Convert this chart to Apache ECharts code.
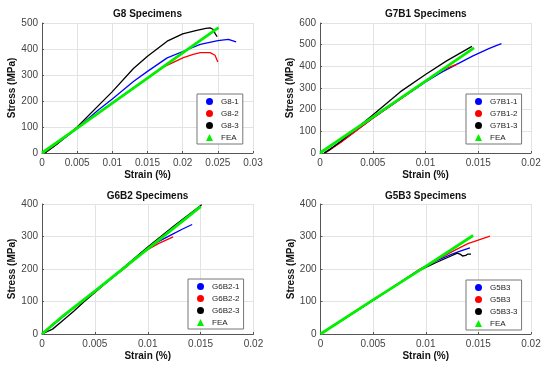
<!DOCTYPE html>
<html>
<head>
<meta charset="utf-8">
<script src="https://cdn.jsdelivr.net/npm/echarts@6/dist/echarts.min.js"></script>
<style>
html,body{margin:0;padding:0;background:#fff;}
#chart{width:550px;height:371px;}
</style>
</head>
<body>
<div id="chart"></div>
<script>
// ---------- data (strain, stress MPa) ----------
const panelTitles = ['G8 Specimens', 'G7B1 Specimens', 'G6B2 Specimens', 'G5B3 Specimens'];
const legendLabels = [
  ['G8-1', 'G8-2', 'G8-3', 'FEA'],
  ['G7B1-1', 'G7B1-2', 'G7B1-3', 'FEA'],
  ['G6B2-1', 'G6B2-2', 'G6B2-3', 'FEA'],
  ['G5B3', 'G5B3', 'G5B3-3', 'FEA']
];
const xMax = [0.03, 0.02, 0.02, 0.02];
const yMax = [500, 600, 400, 400];

const g8_1 = [[0.0004,0],[0.002,32],[0.005,95],[0.008,165],[0.01,208],[0.013,275],[0.015,314],[0.0178,366],[0.0209,400],[0.0225,418],[0.025,432],[0.0265,437],[0.0276,427]];
const g8_2 = [[0.0004,0],[0.002,33],[0.005,95],[0.01,192],[0.013,250],[0.0163,313],[0.0173,331],[0.0201,367],[0.0215,379],[0.0225,386],[0.0239,386],[0.0246,376],[0.025,350]];
const g8_3 = [[0.0004,0],[0.002,32],[0.005,100],[0.0083,190],[0.01,236],[0.013,325],[0.015,372],[0.0178,430],[0.02,458],[0.022,472],[0.0233,479],[0.0239,481],[0.0243,476],[0.0246,460],[0.0249,447]];
const g8_fea = [[0,0],[0.005,96],[0.01,192],[0.015,288],[0.02,385],[0.0251,482]];

const g7b1_1 = [[0.0004,0],[0.002,52],[0.005,160],[0.0076,248],[0.01,328],[0.0115,372],[0.013,410],[0.0145,448],[0.016,482],[0.0167,496],[0.0172,505]];
const g7b1_2 = [[0.0005,0],[0.002,50],[0.005,160],[0.0076,248],[0.01,330],[0.0117,385],[0.013,410]];
const g7b1_3 = [[0.0004,0],[0.001,18],[0.002,55],[0.005,175],[0.0076,282],[0.01,362],[0.012,425],[0.0144,492]];
const g7b1_fea = [[0,0],[0.005,166],[0.01,332],[0.0146,485]];

const g6b2_1 = [[0,0],[0.001,26],[0.003,80],[0.005,130],[0.008,208],[0.0093,248],[0.011,284],[0.0124,308],[0.0133,323],[0.0142,337]];
const g6b2_2 = [[0,0],[0.001,30],[0.003,80],[0.005,132],[0.008,208],[0.0093,247],[0.011,278],[0.0124,299]];
const g6b2_3 = [[0,0],[0.001,15],[0.002,42],[0.003,70],[0.004,100],[0.005,128],[0.008,212],[0.01,268],[0.0125,333],[0.0151,398]];
const g6b2_fea = [[0,0],[0.002,56],[0.005,132],[0.01,262],[0.015,392]];

const g5b3_1 = [[0,0],[0.005,104],[0.0094,198],[0.011,225],[0.0125,246],[0.0132,254],[0.0142,265]];
const g5b3_2 = [[0,0],[0.005,104],[0.0094,198],[0.0105,218],[0.0126,255],[0.014,278],[0.0161,301]];
const g5b3_3 = [[0,0],[0.005,104],[0.0094,196],[0.011,220],[0.0124,240],[0.013,249],[0.0133,245],[0.0135,240],[0.0138,242],[0.014,246],[0.0143,246]];
const g5b3_fea = [[0,0],[0.005,105],[0.01,208],[0.0145,303]];

const panelData = [
  [g8_1, g8_2, g8_3, g8_fea],
  [g7b1_1, g7b1_2, g7b1_3, g7b1_fea],
  [g6b2_1, g6b2_2, g6b2_3, g6b2_fea],
  [g5b3_1, g5b3_2, g5b3_3, g5b3_fea]
];

// ---------- styles / layout ----------
const FONT = 'Liberation Sans, Arial, Helvetica, sans-serif';
const colors = ['#0000ff', '#ff0000', '#000000', '#00f000'];
const widths = [1.3, 1.3, 1.3, 2.8];
const grids = [
  {left: 42, top: 23, width: 211, height: 130},
  {left: 320, top: 23, width: 211, height: 130},
  {left: 42, top: 204, width: 211.5, height: 130},
  {left: 320.5, top: 204, width: 210.5, height: 130}
];
const titlePos = [[147.5, 9], [425.8, 9], [147.5, 191], [425.8, 191]];
const legendPos = [[197, 94], [466, 94], [188, 279], [466, 280]];

const nameMap = {};
const series = [];
const legends = [];
panelData.forEach((arrs, p) => {
  const items = [];
  arrs.forEach((d, i) => {
    const key = 'p' + p + 's' + i;
    nameMap[key] = legendLabels[p][i];
    items.push({name: key, icon: i === 3 ? 'triangle' : 'circle'});
    series.push({
      type: 'line', name: key, xAxisIndex: p, yAxisIndex: p,
      data: d, showSymbol: false, symbol: 'none',
      smooth: false,
      color: colors[i],
      lineStyle: {color: colors[i], width: widths[i], join: 'round'},
      z: 2 + i
    });
  });
  legends.push({
    orient: 'vertical', left: legendPos[p][0], top: legendPos[p][1],
    data: items, itemWidth: 7, itemHeight: 7, itemGap: 3,
    padding: [3, 4, 2, 9], borderColor: '#777', borderWidth: 1, backgroundColor: '#fff',
    selectedMode: false,
    textStyle: {fontSize: 8, color: '#222', fontFamily: FONT, padding: [0, 0, 0, 3], lineHeight: 9},
    formatter: n => nameMap[n]
  });
});

const axisCommon = {
  axisLine: {show: true, onZero: false, lineStyle: {color: '#555', width: 1}},
  axisTick: {show: true, inside: true, length: 2, lineStyle: {color: '#555'}},
  splitLine: {show: true, lineStyle: {color: '#e3e3e3', width: 1}},
  nameLocation: 'middle',
  nameTextStyle: {fontWeight: 'bold', fontSize: 10, color: '#111', fontFamily: FONT}
};

const xAxes = xMax.map((mx, p) => Object.assign({}, axisCommon, {
  type: 'value', gridIndex: p, min: 0, max: mx, interval: 0.005,
  name: 'Strain (%)', nameGap: 17,
  axisLabel: {fontSize: 10, color: '#444', fontFamily: FONT, margin: 5, formatter: v => String(+v.toFixed(4))}
}));
const yAxes = yMax.map((mx, p) => Object.assign({}, axisCommon, {
  type: 'value', gridIndex: p, min: 0, max: mx, interval: 100,
  name: 'Stress (MPa)', nameGap: 23,
  axisLabel: {fontSize: 10, color: '#444', fontFamily: FONT, margin: 4}
}));

const titles = panelTitles.map((t, p) => ({
  text: t, left: titlePos[p][0], top: titlePos[p][1], textAlign: 'center', padding: 0,
  textStyle: {fontSize: 10, fontWeight: 'bold', color: '#111', fontFamily: FONT}
}));

const chart = echarts.init(document.getElementById('chart'), null, {renderer: 'canvas'});
chart.setOption({
  animation: false,
  backgroundColor: '#fff',
  title: titles,
  grid: grids,
  xAxis: xAxes,
  yAxis: yAxes,
  legend: legends,
  series: series
});
</script>
</body>
</html>
